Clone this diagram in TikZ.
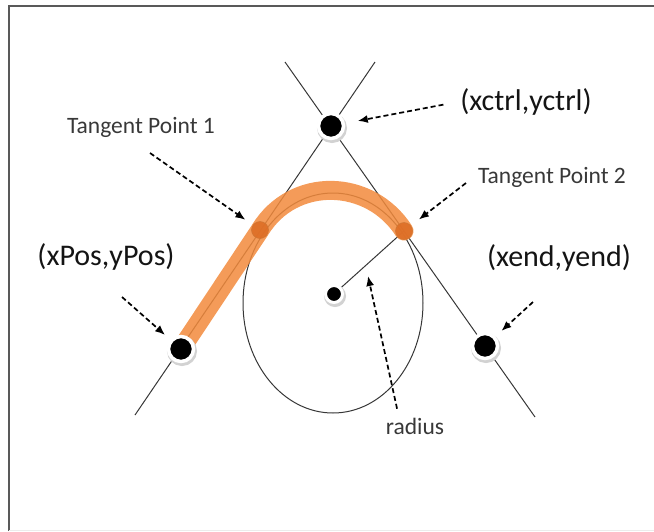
\documentclass[tikz,border=0pt]{standalone}
\usepackage{fontspec}
\setmainfont{Carlito}
\usepackage{tikz}
\definecolor{markorange}{RGB}{242, 138, 60}
\definecolor{tangorange}{RGB}{222, 110, 38}
\definecolor{linegray}{RGB}{55, 55, 55}
\usetikzlibrary{arrows.meta}

\begin{document}
\begin{tikzpicture}[x=1pt, y=-1pt,
			>={Latex[length=10pt,width=8pt]},   %Pfeilspitzen
			pnt/.style={circle, fill=black, draw=white, line width=3.5pt, minimum size=#1, inner sep=0pt,
				preaction={draw=gray!35, line width=5pt, transform canvas={shift={(1pt,-2pt)}}}},
			pnt/.default=25pt,
			tangdot/.style={circle, fill=tangorange, draw=markorange!85!black, line width=0.6pt, minimum size=17pt, inner sep=0pt, opacity=0.9},
			guide/.style={linegray, line width=1pt},
			hint/.style={->, dash pattern=on 5pt off 3pt, line width=1.7pt},
			bigtxt/.style={anchor=base, inner sep=0pt, text=black!92, font=\fontsize{30}{34}\selectfont},
			smalltxt/.style={anchor=base, inner sep=0pt, text=black!78, font=\fontsize{23.5}{27}\selectfont}]
			\useasboundingbox (0,0) rectangle (654,531);
			%Rahmen
			\draw[gray!70!black, line width=2pt] (9,531) -- (9,6) -- (654,6);
			\draw[gray!15] (9,530) -- (654,530);
			%Lage der Punkte
			\coordinate (C) at (331,126);
			\coordinate (P) at (181,349);
			\coordinate (E) at (485,346);
			\coordinate (M) at (334,294);
			\coordinate (T1) at (260,230);
			\coordinate (T2) at (404,231);
			% Geraden und Kreis
			\draw[guide] (285,62) coordinate (la1) -- (535,417) coordinate (la2);
			\draw[guide] (375,62) coordinate (lb1) -- (135,415) coordinate (lb2);
			\draw[guide] (333,303) ellipse [x radius=90, y radius=110];
			\draw[guide] (M) -- (T2);
			%Bogen
			\draw[markorange, line width=19pt, line cap=round, line join=round, opacity=0.85]
				(P) -- (T1) .. controls (293,176) and (370,178) .. (T2);
			%Punkte
			\node[pnt] (ctrl) at (C) {};
			\node[pnt] (xpos) at (P) {};
			\node[pnt] (xend) at (E) {};
			\node[pnt=17pt, line width=3pt] (cen) at (M) {};
			\node[tangdot] (tp1) at (T1) {};
			\node[tangdot] (tp2) at (T2) {};
			%Beschriftung
			\node[bigtxt] (ctrltxt) at (526,110) {(xctrl,yctrl)};
			\node[bigtxt] (postxt) at (106,265) {(xPos,yPos)};
			\node[bigtxt] (endtxt) at (559,266) {(xend,yend)};
			\node[smalltxt] (tp1txt) at (141,133) {Tangent Point 1};
			\node[smalltxt] (tp2txt) at (552,183) {Tangent Point 2};
			\node[smalltxt] (radtxt) at (415,434) {radius};
			%Hinweispfeile
			\coordinate (tp1tail) at (150,153);
			\coordinate (tp2tail) at (466,183);
			\coordinate (postail) at (122,297);
			\coordinate (endtail) at (533,302);
			\coordinate (radtip) at (368,276);
			\draw[hint, shorten <=17pt, shorten >=13pt] (ctrltxt.west) -- (ctrl);
			\draw[hint, shorten >=9pt] (tp1tail) -- (tp1);
			\draw[hint, shorten >=10pt] (tp2tail) -- (tp2);
			\draw[hint, shorten >=7pt] (postail) -- (xpos);
			\draw[hint, shorten >=8pt] (endtail) -- (xend);
			\draw[hint, shorten <=9pt] ([xshift=-16pt]radtxt.north) -- (radtip);
		\end{tikzpicture}
\end{document}
